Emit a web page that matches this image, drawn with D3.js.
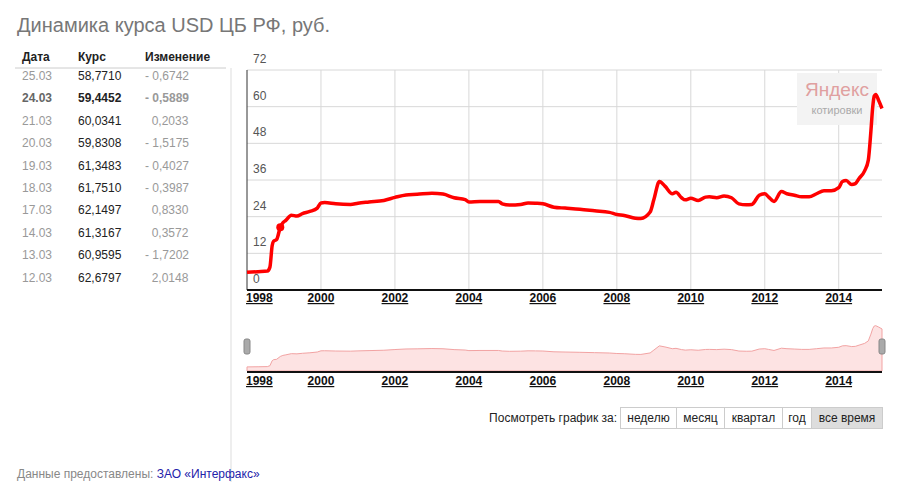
<!DOCTYPE html>
<html><head><meta charset="utf-8">
<script src="https://cdn.jsdelivr.net/npm/d3@7"></script>
<style>
body{margin:0;background:#fff;font-family:Arial,"Liberation Sans",sans-serif;}
</style></head>
<body><svg id="c" width="899" height="482"></svg>
<script>
// table rows
var dates = ["25.03","24.03","21.03","20.03","19.03","18.03","17.03","14.03","13.03","12.03"];
var rates = ["58,7710","59,4452","60,0341","59,8308","61,3483","61,7510","62,1497","61,3167","60,9595","62,6797"];
var changes = ["- 0,6742","- 0,5889","0,2033","- 1,5175","- 0,4027","- 0,3987","0,8330","0,3572","- 1,7202","2,0148"];

// series: decimal year / rub per USD
var years = [1998.0,1998.3,1998.55,1998.62,1998.68,1998.72,1998.8,1998.9,1998.97,1999.05,1999.2,1999.35,1999.5,1999.7,1999.9,2000.0,2000.1,2000.4,2000.8,2001.0,2001.3,2001.7,2002.0,2002.3,2002.6,2003.0,2003.3,2003.6,2003.9,2004.0,2004.3,2004.8,2004.9,2005.1,2005.4,2005.6,2005.8,2006.0,2006.3,2006.6,2007.0,2007.4,2007.8,2008.0,2008.2,2008.5,2008.65,2008.9,2009.0,2009.15,2009.3,2009.5,2009.6,2009.75,2009.85,2010.0,2010.2,2010.4,2010.5,2010.7,2010.9,2011.1,2011.3,2011.5,2011.65,2011.85,2012.0,2012.1,2012.25,2012.45,2012.6,2012.8,2013.0,2013.2,2013.4,2013.6,2013.8,2014.0,2014.1,2014.2,2014.35,2014.45,2014.55,2014.7,2014.8,2014.87,2014.92,2014.96,2015.0,2015.08,2015.17];
var values = [5.8,6.0,6.2,7.5,14.5,16.0,16.5,20.5,22.0,22.8,24.5,24.2,25.0,25.7,26.8,28.5,28.6,28.2,28.0,28.4,28.8,29.3,30.3,31.1,31.3,31.7,31.4,30.2,29.6,28.8,29.0,29.0,28.2,27.8,28.0,28.5,28.4,28.2,27.1,26.8,26.4,25.9,25.4,24.7,24.4,23.5,23.4,25.5,29.5,35.5,34.0,31.5,32.0,30.2,29.5,30.0,29.3,30.4,30.5,30.2,30.8,30.2,28.2,27.9,28.0,31.0,31.5,30.5,29.0,32.2,31.5,31.0,30.5,30.5,31.5,32.5,32.5,33.5,35.5,35.8,34.5,34.8,36.5,39.0,42.5,52.0,60.0,63.5,64.0,62.0,59.4];

var yTicks = [0,12,24,36,48,60,72];
var xYears = [1998,2000,2002,2004,2006,2008,2010,2012,2014];
var periods = ["неделю","месяц","квартал","год","все время"];

var svg = d3.select("#c");

svg.append("text").attr("x",17).attr("y",32).attr("fill","#777").style("font-size","20px")
  .text("Динамика курса USD ЦБ РФ, руб.");

// table
var cols = [22,78,145];
["Дата","Курс","Изменение"].forEach(function(h,i){
  svg.append("text").attr("x",cols[i]).attr("y",61).attr("font-weight","bold").style("font-size","12px").attr("fill","#222").text(h);
});
svg.append("line").attr("x1",15).attr("x2",226).attr("y1",68).attr("y2",68).attr("stroke","#ccc");
svg.append("line").attr("x1",231).attr("x2",231).attr("y1",68).attr("y2",482).attr("stroke","#ddd");
dates.forEach(function(d,i){
  var y = 80 + i*22.4, b = i==1;
  var fw = b ? "bold" : "normal";
  svg.append("text").attr("x",22).attr("y",y).attr("fill",b?"#666":"#999").attr("font-weight",fw).style("font-size","12px").text(d);
  svg.append("text").attr("x",78).attr("y",y).attr("fill","#222").attr("font-weight",fw).style("font-size","12px").text(rates[i]);
  svg.append("text").attr("x",145).attr("y",y).attr("fill","#999").attr("font-weight",fw).style("font-size","12px").attr("xml:space","preserve").text(changes[i].charAt(0)=="-"?changes[i]:"  "+changes[i]);
});

// main chart
var x = d3.scaleLinear().domain([1998,2015.17]).range([247,882]);
var y = d3.scaleLinear().domain([0,72]).range([290,70]);
var g = svg.append("g");
yTicks.forEach(function(t){
  if (t>0) g.append("line").attr("x1",247).attr("x2",882).attr("y1",y(t)).attr("y2",y(t)).attr("stroke","#d8d8d8");
  g.append("text").attr("x",253).attr("y",y(t)-7).attr("fill","#555").style("font-size","12px").text(t);
});
xYears.forEach(function(t){
  if (t>1998) g.append("line").attr("x1",x(t)).attr("x2",x(t)).attr("y1",70).attr("y2",290).attr("stroke","#d8d8d8");
});
g.append("line").attr("x1",247).attr("x2",247).attr("y1",70).attr("y2",290).attr("stroke","#333");
g.append("line").attr("x1",247).attr("x2",882).attr("y1",290).attr("y2",290).attr("stroke","#111").attr("stroke-width",2);

// watermark
g.append("rect").attr("x",797).attr("y",73).attr("width",80).attr("height",52).attr("fill","#f3f3f3");
g.append("text").attr("x",837).attr("y",96).attr("text-anchor","middle").attr("fill","#e0a0a0").style("font-size","19px").text("Яндекс");
g.append("text").attr("x",837).attr("y",114).attr("text-anchor","middle").attr("fill","#aaa").style("font-size","11px").text("котировки");

xYears.forEach(function(t){
  g.append("text").attr("x",x(t)).attr("y",302).attr("text-anchor",t==1998?"start":"middle").attr("dx",t==1998?-1:0)
    .attr("font-weight","bold").attr("text-decoration","underline").style("font-size","12px").attr("fill","#111").text(t);
});
var line = d3.line().x(function(d,i){return x(years[i]);}).y(function(d){return y(d);}).curve(d3.curveMonotoneX);
g.append("path").datum(values).attr("d",line).attr("fill","none").attr("stroke","#f00").attr("stroke-width",3.5).attr("stroke-linejoin","round");
g.append("circle").attr("cx",x(1998.9)).attr("cy",y(20.5)).attr("r",4).attr("fill","#f00");

// navigator
var y2 = d3.scaleLinear().domain([0,72]).range([371,320]);
var area = d3.area().x(function(d,i){return x(years[i]);}).y0(371).y1(function(d){return y2(d);});
svg.append("path").datum(values).attr("d",area).attr("fill","#fde3e3").attr("stroke","#f2a3a3");
svg.append("line").attr("x1",247).attr("x2",882).attr("y1",372).attr("y2",372).attr("stroke","#111").attr("stroke-width",2);
[247,882].forEach(function(hx){
  svg.append("rect").attr("x",hx-3).attr("y",339).attr("width",6).attr("height",15).attr("rx",2).attr("fill","#aaa").attr("stroke","#888");
});
xYears.forEach(function(t){
  svg.append("text").attr("x",x(t)).attr("y",385).attr("text-anchor",t==1998?"start":"middle").attr("dx",t==1998?-1:0)
    .attr("font-weight","bold").attr("text-decoration","underline").style("font-size","12px").attr("fill","#111").text(t);
});

// period buttons
svg.append("text").attr("x",617).attr("y",422).attr("text-anchor","end").style("font-size","12px").attr("fill","#222").text("Посмотреть график за:");
var bx = [620,676,724,782,811,882];
periods.forEach(function(p,i){
  svg.append("rect").attr("x",bx[i]+0.5).attr("y",407.5).attr("width",bx[i+1]-bx[i]).attr("height",21)
    .attr("fill",i==4?"#ddd":"#fff").attr("stroke","#ccc");
  svg.append("text").attr("x",(bx[i]+bx[i+1])/2+0.5).attr("y",422).attr("text-anchor","middle").style("font-size","12px").attr("fill","#222").text(p);
});

// footer
var ft = svg.append("text").attr("x",17).attr("y",478).style("font-size","12px");
ft.append("tspan").attr("fill","#888").text("Данные предоставлены: ");
ft.append("tspan").attr("fill","#22a").text("ЗАО «Интерфакс»");
</script></body></html>
